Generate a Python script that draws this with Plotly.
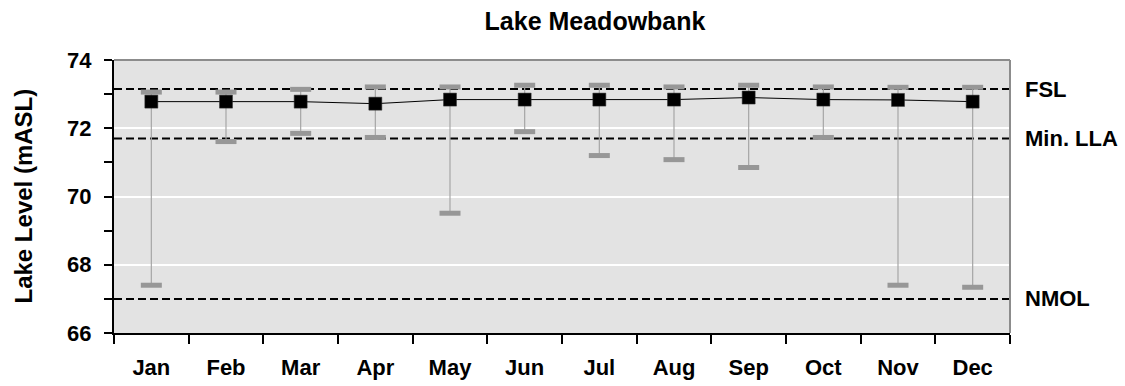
import plotly.graph_objects as go

months = ["Jan", "Feb", "Mar", "Apr", "May", "Jun", "Jul", "Aug", "Sep", "Oct", "Nov", "Dec"]
mean_level = [72.78, 72.78, 72.78, 72.72, 72.84, 72.84, 72.84, 72.84, 72.90, 72.84, 72.83, 72.78]
max_level = [73.06, 73.06, 73.14, 73.21, 73.21, 73.26, 73.26, 73.21, 73.26, 73.21, 73.20, 73.20]
min_level = [67.40, 71.61, 71.85, 71.73, 69.51, 71.90, 71.20, 71.08, 70.85, 71.73, 67.40, 67.34]

ref_names = ["FSL", "Min. LLA", "NMOL"]
ref_levels = [73.15, 71.70, 67.00]

FONT = "Liberation Sans, Arial, sans-serif"
TICK_SIZE = 22

fig = go.Figure()

# whiskers (min to max)
sx, sy = [], []
for m, lo, hi in zip(months, min_level, max_level):
    sx += [m, m, None]
    sy += [lo, hi, None]
fig.add_trace(go.Scatter(x=sx, y=sy, mode="lines",
                         line=dict(color="#a6a6a6", width=1.2),
                         hoverinfo="skip", showlegend=False))

# caps
fig.add_trace(go.Scatter(x=months + months, y=max_level + min_level, mode="markers",
                         marker=dict(symbol="line-ew", size=15,
                                     line=dict(color="#979797", width=5)),
                         showlegend=False))

# mean line + markers
fig.add_trace(go.Scatter(x=months, y=mean_level, mode="lines+markers",
                         line=dict(color="#000000", width=1),
                         marker=dict(symbol="square", size=13, color="#000000",
                                     line=dict(color="#333333", width=0.5)),
                         showlegend=False))

shapes = []
for lvl in ref_levels:
    shapes.append(dict(type="line", xref="paper", x0=0, x1=1, yref="y", y0=lvl, y1=lvl,
                       line=dict(color="#000000", width=2, dash="8px,4px"), layer="between"))
# top and right grey border
shapes.append(dict(type="line", xref="paper", yref="paper", x0=0, x1=1, y0=1, y1=1,
                   line=dict(color="#8c8c8c", width=2), layer="above"))
shapes.append(dict(type="line", xref="paper", yref="paper", x0=1, x1=1, y0=0, y1=1,
                   line=dict(color="#8c8c8c", width=2), layer="above"))

annotations = []
for name, lvl in zip(ref_names, ref_levels):
    annotations.append(dict(text="<b>" + name + "</b>", xref="paper", x=1, xanchor="left", xshift=13,
                            yref="y", y=lvl, yanchor="middle", showarrow=False,
                            font=dict(family=FONT, size=TICK_SIZE, color="#000000")))
# y axis title placed explicitly
annotations.append(dict(text="<b>Lake Level (mASL)</b>", xref="paper", x=0, xanchor="center",
                        xshift=-91, yref="paper", y=0.5, yanchor="middle", textangle=-90,
                        showarrow=False, font=dict(family=FONT, size=24, color="#000000")))

fig.update_layout(
    width=1125, height=386,
    margin=dict(l=114, r=115, t=60, b=53),
    paper_bgcolor="#ffffff",
    plot_bgcolor="#e3e3e3",
    title=dict(text="<b>Lake Meadowbank</b>", x=595 / 1125, xref="container", xanchor="center",
               y=1 - 21 / 386, yref="container", yanchor="middle",
               font=dict(family=FONT, size=25, color="#000000")),
    shapes=shapes,
    annotations=annotations,
    font=dict(family=FONT, color="#000000"),
)

fig.update_xaxes(type="category", categoryorder="array", categoryarray=months,
                 range=[-0.5, 11.5], tickson="boundaries", automargin=False,
                 ticks="outside", ticklen=9, tickwidth=1.5, tickcolor="#000000",
                 showline=True, linecolor="#000000", linewidth=2,
                 showgrid=False, zeroline=False,
                 tickfont=dict(family=FONT, size=TICK_SIZE, color="#000000"),
                 ticklabelstandoff=14,
                 tickprefix="<b>", ticksuffix="</b>")

fig.update_yaxes(range=[66, 74], dtick=2, tick0=66, automargin=False,
                 ticks="outside", ticklen=8, tickwidth=1.5, tickcolor="#000000",
                 minor=dict(dtick=1, ticks="outside", ticklen=8, tickwidth=1.5,
                            tickcolor="#000000", showgrid=False),
                 showline=True, linecolor="#000000", linewidth=2,
                 showgrid=True, gridcolor="#ffffff", gridwidth=2,
                 zeroline=False,
                 tickfont=dict(family=FONT, size=TICK_SIZE, color="#000000"),
                 ticklabelstandoff=8,
                 tickprefix="<b>", ticksuffix="</b>")

fig.write_html("out.html")
